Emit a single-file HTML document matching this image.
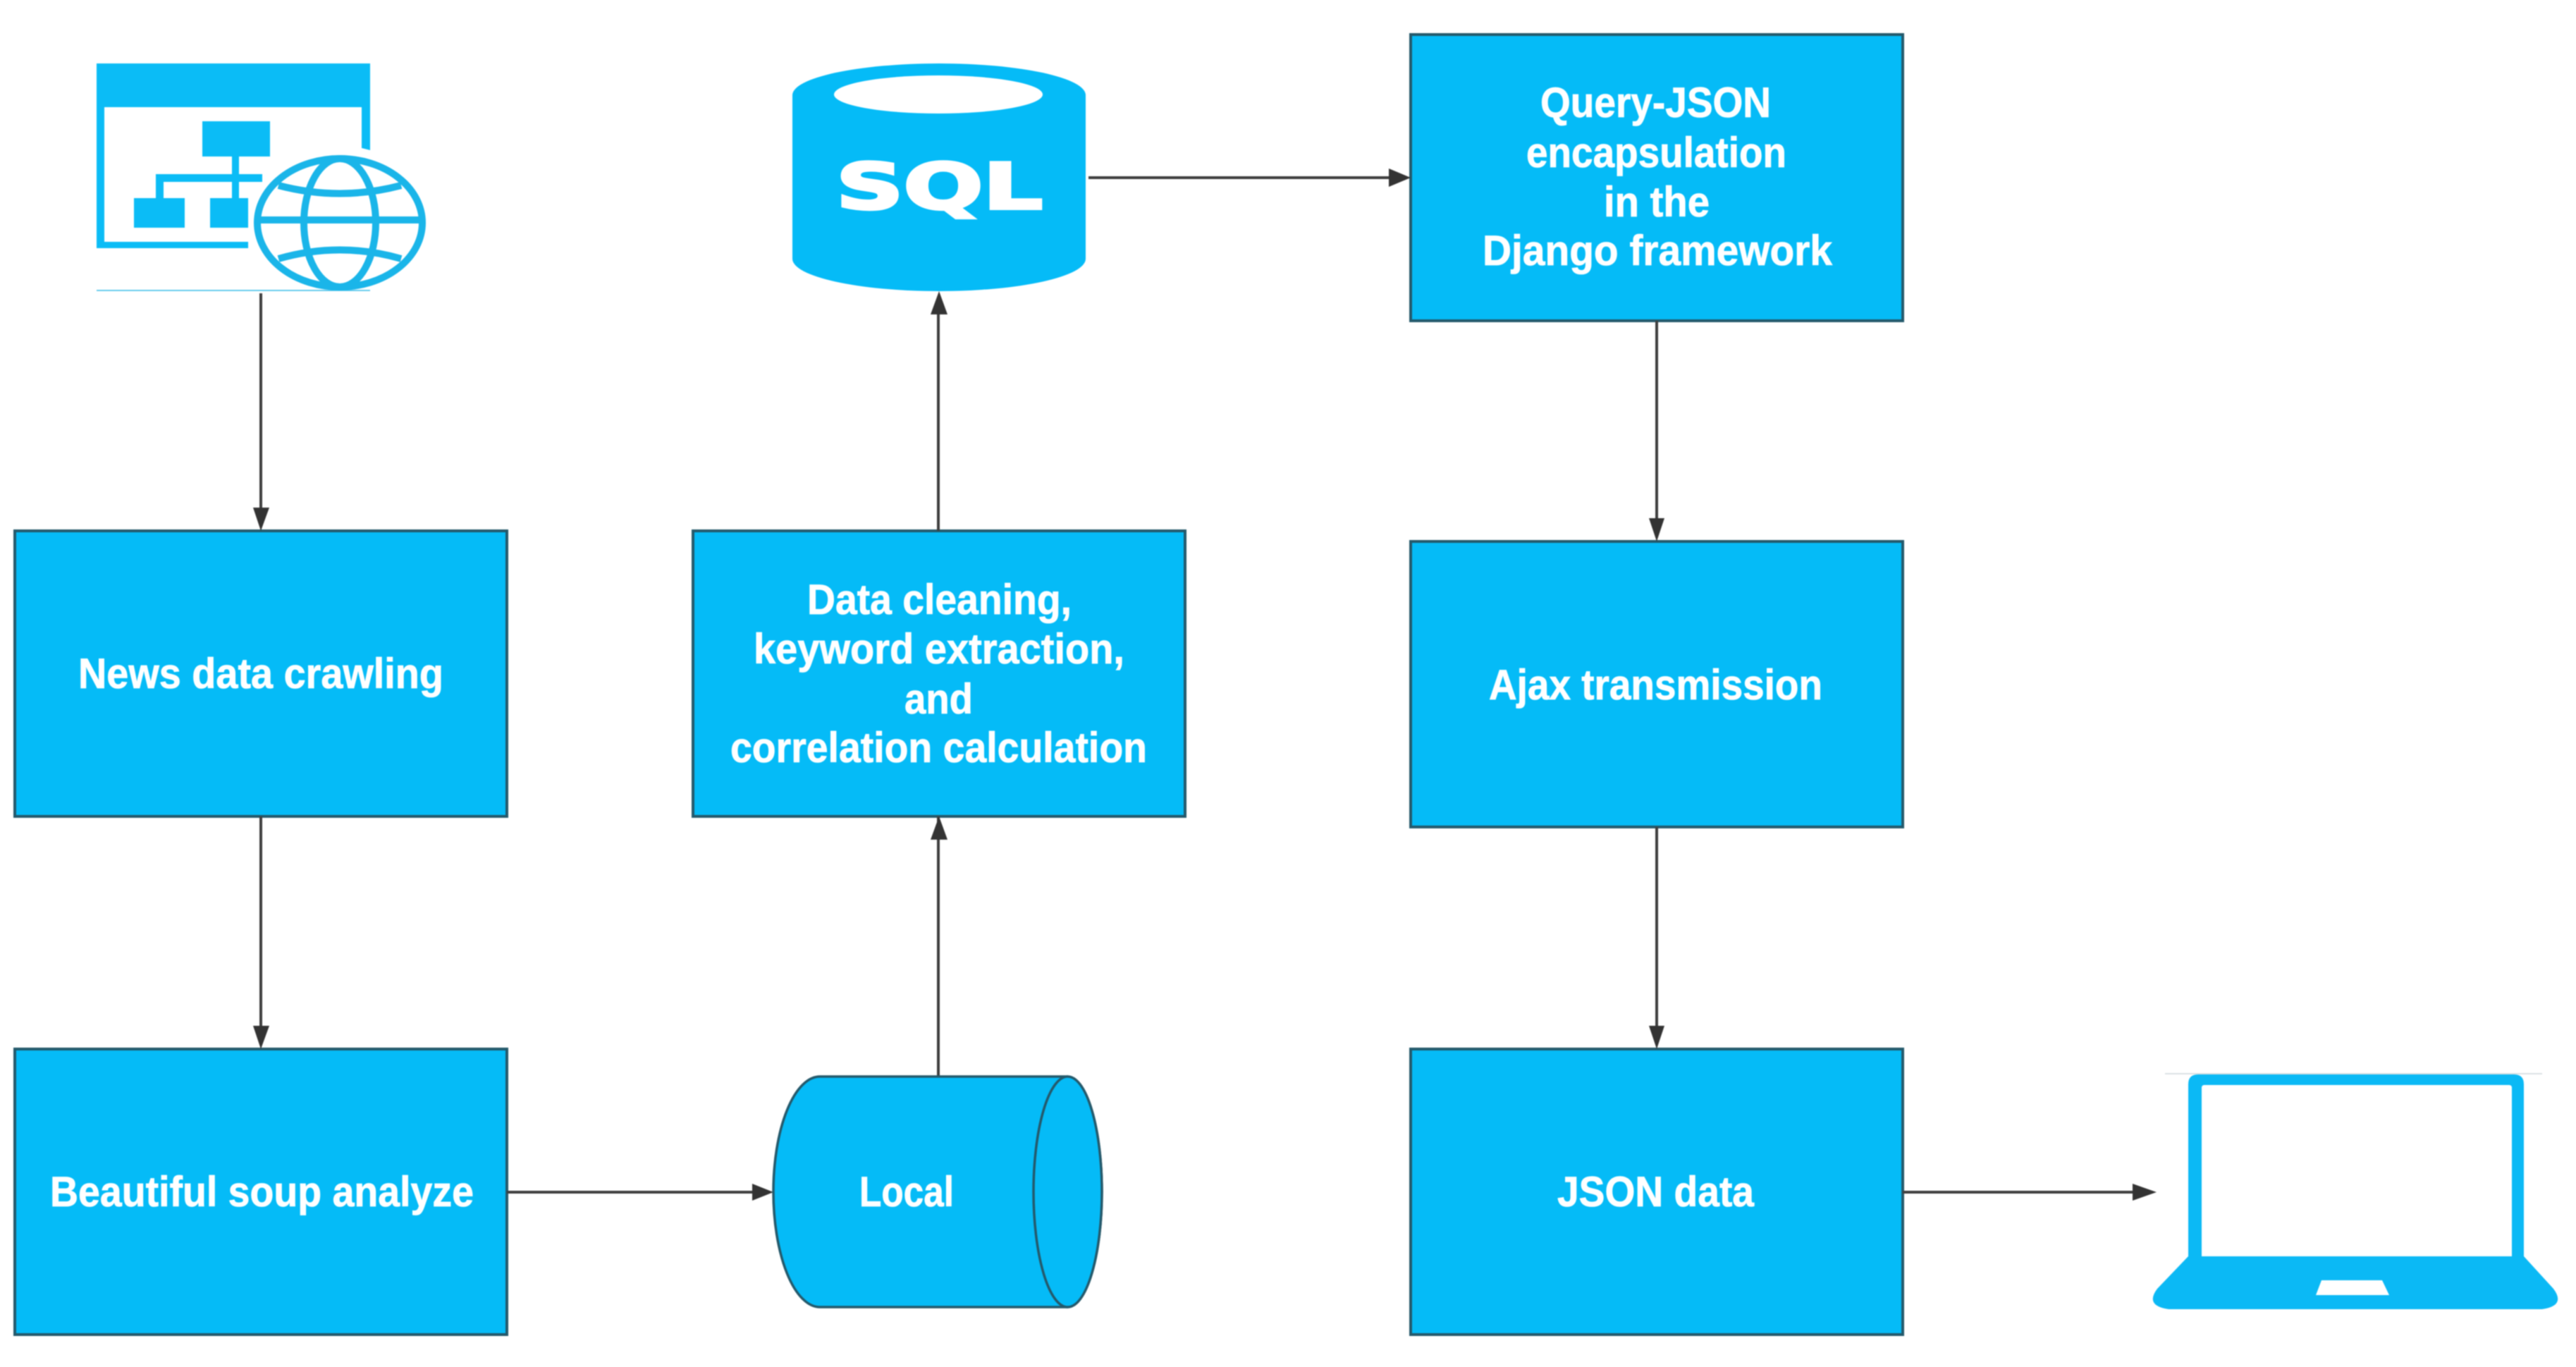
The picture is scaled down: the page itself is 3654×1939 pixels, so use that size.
<!DOCTYPE html>
<html lang="en">
<head>
<meta charset="utf-8">
<title>News data pipeline diagram</title>
<style>
html,body{margin:0;padding:0;background:#fff;width:3654px;height:1939px;overflow:hidden}
svg{display:block;filter:blur(.8px)}
.t{font-family:"Liberation Sans",sans-serif;font-weight:700;font-size:60px;fill:#fff;stroke:#fff;stroke-width:.8}
.b{fill:#05bbf7;stroke:#24596b;stroke-width:4}
.c{stroke:#3f3f3f;stroke-width:4;fill:none}
.h{fill:#333}
</style>
</head>
<body>
<svg width="3654" height="1939" viewBox="0 0 3654 1939" xmlns="http://www.w3.org/2000/svg">
<rect width="3654" height="1939" fill="#fff"/>

<!-- boxes -->
<rect class="b" x="21" y="753" width="698" height="405"/>
<rect class="b" x="21" y="1488" width="698" height="405"/>
<rect class="b" x="983" y="753" width="698" height="405"/>
<rect class="b" x="2001" y="49" width="698" height="406"/>
<rect class="b" x="2001" y="768" width="698" height="405"/>
<rect class="b" x="2001" y="1488" width="698" height="405"/>

<!-- connectors -->
<line class="c" x1="370" y1="416" x2="370" y2="725"/>
<polygon class="h" points="359,720 382,720 370,753"/>
<line class="c" x1="370" y1="1158" x2="370" y2="1460"/>
<polygon class="h" points="359,1455 382,1455 370,1488"/>
<line class="c" x1="719" y1="1691" x2="1070" y2="1691"/>
<polygon class="h" points="1067,1679 1067,1703 1097,1691"/>
<line class="c" x1="1331" y1="1527" x2="1331" y2="1158"/>
<line class="c" x1="1331" y1="753" x2="1331" y2="440"/>
<polygon class="h" points="1320,446 1344,446 1332,413"/>
<polygon class="h" points="1320,1191 1344,1191 1332,1158"/>
<line class="c" x1="1544" y1="252" x2="1975" y2="252"/>
<polygon class="h" points="1970,239 1970,265 2001,252"/>
<line class="c" x1="2350" y1="455" x2="2350" y2="740"/>
<polygon class="h" points="2339,735 2361,735 2350,768"/>
<line class="c" x1="2350" y1="1173" x2="2350" y2="1460"/>
<polygon class="h" points="2339,1455 2361,1455 2350,1488"/>
<line class="c" x1="2699" y1="1691" x2="3030" y2="1691"/>
<polygon class="h" points="3025,1679 3025,1703 3059,1691"/>

<!-- Local cylinder -->
<path d="M1163,1527 L1514,1527 A49,163.5 0 0 1 1514,1854 L1163,1854 A66,163.5 0 0 1 1163,1527 Z" fill="#05bbf7" stroke="#24596b" stroke-width="3.5"/>
<ellipse cx="1514.5" cy="1690.5" rx="48.5" ry="163.5" fill="#05bbf7" stroke="#24596b" stroke-width="3.5"/>

<!-- SQL cylinder -->
<path d="M1124,135 A208,45 0 0 1 1540,135 L1540,367 A208,46 0 0 1 1124,367 Z" fill="#05bbf7"/>
<ellipse cx="1331" cy="134" rx="148" ry="27" fill="#fff"/>
<text x="1186" y="296" font-family="'DejaVu Sans',sans-serif" font-weight="700" font-size="90" fill="#fff" stroke="#fff" stroke-width="4" textLength="293" lengthAdjust="spacingAndGlyphs">SQL</text>

<!-- window + globe icon -->
<path d="M137,90 H525 V213 L513,210 V152 H148 V343 H352 V352 H137 Z" fill="#0bbcf6"/>
<rect x="287" y="172" width="96" height="50" fill="#0bbcf6"/>
<rect x="329" y="222" width="10" height="60" fill="#0bbcf6"/>
<rect x="221" y="247" width="151" height="11" fill="#0bbcf6"/>
<rect x="221" y="247" width="11" height="36" fill="#0bbcf6"/>
<rect x="190" y="281" width="72" height="42" fill="#0bbcf6"/>
<rect x="298" y="281" width="54" height="42" fill="#0bbcf6"/>
<line x1="137" y1="412" x2="525" y2="412" stroke="#39bce8" stroke-width="1.5"/>
<g fill="none" stroke="#1ab5e9" stroke-width="10">
<ellipse cx="482" cy="316" rx="117" ry="91"/>
<ellipse cx="482" cy="316" rx="51" ry="91"/>
<line x1="365" y1="312" x2="599" y2="312"/>
<path d="M395,263 Q482,286 569,263"/>
<path d="M395,367 Q482,342 569,367"/>
</g>

<!-- laptop icon -->
<line x1="3071" y1="1523" x2="3606" y2="1523" stroke="#cfd8dc" stroke-width="1.5"/>
<path fill-rule="evenodd" fill="#0bb9f5" d="M3118,1524 H3566 Q3580,1524 3580,1538 V1782 L3622,1828 Q3640,1852 3606,1857 H3076 Q3042,1852 3060,1828 L3104,1782 V1538 Q3104,1524 3118,1524 Z M3127,1539 Q3123,1539 3123,1543 V1782 H3563 V1543 Q3563,1539 3559,1539 Z M3293,1816 L3285,1837 H3389 L3379,1816 Z"/>

<!-- labels -->
<text class="t" x="111" y="976" textLength="518" lengthAdjust="spacingAndGlyphs">News data crawling</text>
<text class="t" x="71" y="1711" textLength="601" lengthAdjust="spacingAndGlyphs">Beautiful soup analyze</text>
<text class="t" x="1219" y="1711" textLength="134" lengthAdjust="spacingAndGlyphs">Local</text>
<text class="t" x="1145" y="871" textLength="375" lengthAdjust="spacingAndGlyphs">Data cleaning,</text>
<text class="t" x="1069" y="941" textLength="526" lengthAdjust="spacingAndGlyphs">keyword extraction,</text>
<text class="t" x="1283" y="1012" textLength="97" lengthAdjust="spacingAndGlyphs">and</text>
<text class="t" x="1036" y="1081" textLength="591" lengthAdjust="spacingAndGlyphs">correlation calculation</text>
<text class="t" x="2185" y="166" textLength="327" lengthAdjust="spacingAndGlyphs">Query-JSON</text>
<text class="t" x="2165" y="237" textLength="369" lengthAdjust="spacingAndGlyphs">encapsulation</text>
<text class="t" x="2275" y="307" textLength="150" lengthAdjust="spacingAndGlyphs">in the</text>
<text class="t" x="2103" y="376" textLength="496" lengthAdjust="spacingAndGlyphs">Django framework</text>
<text class="t" x="2112" y="992" textLength="473" lengthAdjust="spacingAndGlyphs">Ajax transmission</text>
<text class="t" x="2209" y="1711" textLength="279" lengthAdjust="spacingAndGlyphs">JSON data</text>
</svg>
</body>
</html>
